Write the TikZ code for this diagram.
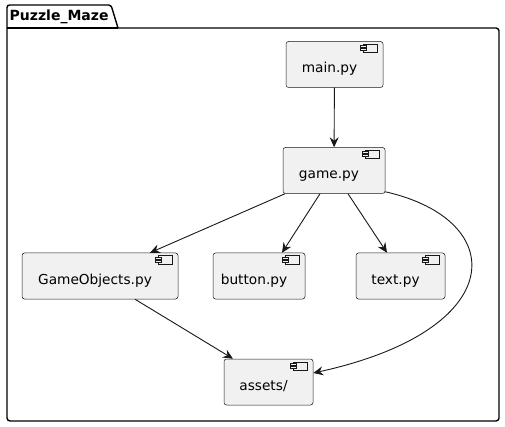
\documentclass[tikz,border=0pt]{standalone}
\usepackage{fontspec}
\setmainfont{DejaVu Sans}
\usetikzlibrary{arrows.meta}
\definecolor{compfill}{HTML}{F1F1F1}
\definecolor{inkline}{HTML}{181818}
\tikzset{
  comp/.style={draw=inkline, line width=0.5pt, fill=compfill, rounded corners=2.5pt,
    inner xsep=0pt, inner ysep=0pt, text height=31.5pt, text depth=14.5pt,
    font=\fontsize{13.7}{16}\selectfont, execute at end node={\kern10pt}},
  dep/.style={draw=inkline, line width=0.9pt, -{Stealth[length=10pt,width=9pt,inset=3.5pt]}},
  frame/.style={draw=black, line width=1.4pt}
}
\begin{document}
\begin{tikzpicture}[x=1pt, y=-1pt]
  \useasboundingbox (0,0) rectangle (505,427);
  % package Puzzle_Maze
  \draw[frame, rounded corners=3pt] (118,28) -- (499,28) -- (499,421) -- (7,421) -- (7,28);
  \draw[frame] (7,28) -- (118,28);
  \draw[frame, rounded corners=2.5pt] (7,28) -- (7,5) -- (111,5) -- (118,28);
  \node[anchor=base west, font=\fontsize{14}{16}\selectfont\bfseries, inner sep=0pt] (pkg) at (9.5,20.5) {Puzzle\_Maze};

  % components
  \node[comp, minimum width=97pt]  (main)   at (334.5,64.5) {main.py};
  \node[comp, minimum width=102pt] (game)   at (334,170.5)  {game.py};
  \node[comp, minimum width=156pt] (gobj)   at (100,276)    {GameObjects.py};
  \node[comp, minimum width=92pt]  (button) at (259,276)    {button.py};
  \node[comp, minimum width=89pt]  (text)   at (400.5,276)  {text.py};
  \node[comp, minimum width=89pt]  (assets) at (268.5,382)  {assets/};

  % component icons
  \foreach \n in {main,game,gobj,button,text,assets} {
    \draw[inkline, line width=0.5pt, fill=compfill] ([xshift=-20pt,yshift=-3pt]\n.north east) rectangle ([xshift=-6pt,yshift=-11pt]\n.north east);
    \draw[inkline, line width=0.5pt, fill=compfill] ([xshift=-23pt,yshift=-4.5pt]\n.north east) rectangle ([xshift=-17pt,yshift=-6.5pt]\n.north east);
    \draw[inkline, line width=0.5pt, fill=compfill] ([xshift=-23pt,yshift=-7.5pt]\n.north east) rectangle ([xshift=-17pt,yshift=-9.5pt]\n.north east);
  }

  % dependencies
  \draw[dep] (main) -- (game);
  \draw[dep] ([xshift=-49pt]game.south) -- ([xshift=50pt]gobj.north);
  \draw[dep] ([xshift=-14pt]game.south) -- ([xshift=23pt]button.north);
  \draw[dep] ([xshift=14pt]game.south) -- ([xshift=-13.5pt]text.north);
  \draw[dep] ([yshift=2pt]game.south east) .. controls (510,220) and (510,330) .. ([yshift=9pt]assets.east);
  \draw[dep] ([xshift=35pt]gobj.south) -- ([xshift=-35.5pt]assets.north);
\end{tikzpicture}
\end{document}
